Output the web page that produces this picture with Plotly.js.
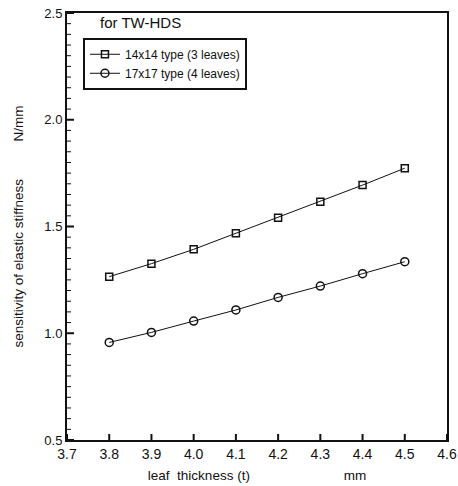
<!DOCTYPE html>
<html>
<head>
<meta charset="utf-8">
<script src="https://cdn.plot.ly/plotly-3.0.1.min.js"></script>
<style>html,body{margin:0;padding:0;background:#fff;}#chart{width:458px;height:486px;}</style>
</head>
<body>
<div id="chart"></div>
<script>
var thickness = [3.8, 3.9, 4.0, 4.1, 4.2, 4.3, 4.4, 4.5];
var type14x14 = [1.265, 1.326, 1.393, 1.468, 1.541, 1.616, 1.694, 1.773];
var type17x17 = [0.957, 1.004, 1.057, 1.109, 1.168, 1.221, 1.279, 1.335];
var seriesNames = ["14x14 type (3 leaves)", "17x17 type (4 leaves)"];
var xTicks = [3.7, 3.8, 3.9, 4.0, 4.1, 4.2, 4.3, 4.4, 4.5, 4.6];
var yTicks = [0.5, 1.0, 1.5, 2.0, 2.5];
var xRange = [3.7, 4.6];
var yRange = [0.5, 2.5];
var yMinorStep = 0.05;

var font = "Liberation Sans, Arial, sans-serif";
var nb = function (n) { return new Array(n + 1).join("\u00A0"); };

var traces = [
  {x: thickness, y: type14x14, name: seriesNames[0], type: "scatter", mode: "lines+markers",
   line: {color: "#111", width: 1},
   marker: {symbol: "square-open", size: 7, color: "#111", line: {width: 1.5}}},
  {x: thickness, y: type17x17, name: seriesNames[1], type: "scatter", mode: "lines+markers",
   line: {color: "#111", width: 1},
   marker: {symbol: "circle-open", size: 8, color: "#111", line: {width: 1.5}}}
];

// tick marks drawn as shapes on the axes' own scales (inside ticks)
var shapes = [];
xTicks.forEach(function (v) {
  shapes.push({type: "line", xref: "x", yref: "paper", x0: v, x1: v, y0: 0, y1: 6 / 427,
               line: {color: "#111", width: 2}});
});
var nMinor = Math.round((yRange[1] - yRange[0]) / yMinorStep);
for (var i = 0; i <= nMinor; i++) {
  var v = yRange[0] + i * yMinorStep;
  var major = yTicks.some(function (t) { return Math.abs(t - v) < 1e-6; });
  shapes.push({type: "line", xref: "paper", yref: "y", x0: 0, x1: (major ? 7 : 4) / 380, y0: v, y1: v,
               line: {color: "#111", width: major ? 2 : 1}});
}

var layout = {
  width: 458, height: 486,
  margin: {l: 67, r: 11, t: 13, b: 46},
  paper_bgcolor: "#fff", plot_bgcolor: "#fff",
  font: {family: font, color: "#111", size: 12},
  title: {text: "for TW-HDS", xref: "paper", yref: "paper", x: 0.087, y: 0.978,
          xanchor: "left", yanchor: "middle", font: {family: font, size: 15, color: "#111"}},
  showlegend: true,
  legend: {x: 0.042, y: 0.942, xanchor: "left", yanchor: "top",
           bgcolor: "#fff", bordercolor: "#111", borderwidth: 2,
           font: {family: font, size: 12, color: "#111"}},
  xaxis: {range: xRange, tickmode: "array", tickvals: xTicks, tickformat: ".1f",
          ticks: "", showline: true, linecolor: "#111", linewidth: 2, mirror: true,
          showgrid: false, zeroline: false,
          tickfont: {family: font, size: 14, color: "#111"},
          title: {text: "leaf\u00A0\u00A0thickness (t)" + nb(25) + "mm", standoff: 10,
                  font: {family: font, size: 13.5, color: "#111"}}},
  yaxis: {range: yRange, tickmode: "array", tickvals: yTicks, tickformat: ".1f",
          ticks: "", showline: true, linecolor: "#111", linewidth: 2, mirror: true,
          showgrid: false, zeroline: false,
          tickfont: {family: font, size: 13, color: "#111"},
          title: {text: "sensitivity of elastic stiffness" + nb(10) + "N/mm" + nb(5), standoff: 18,
                  font: {family: font, size: 13.5, color: "#111"}}},
  shapes: shapes
};

Plotly.newPlot("chart", traces, layout, {displayModeBar: false});
</script>
</body>
</html>
